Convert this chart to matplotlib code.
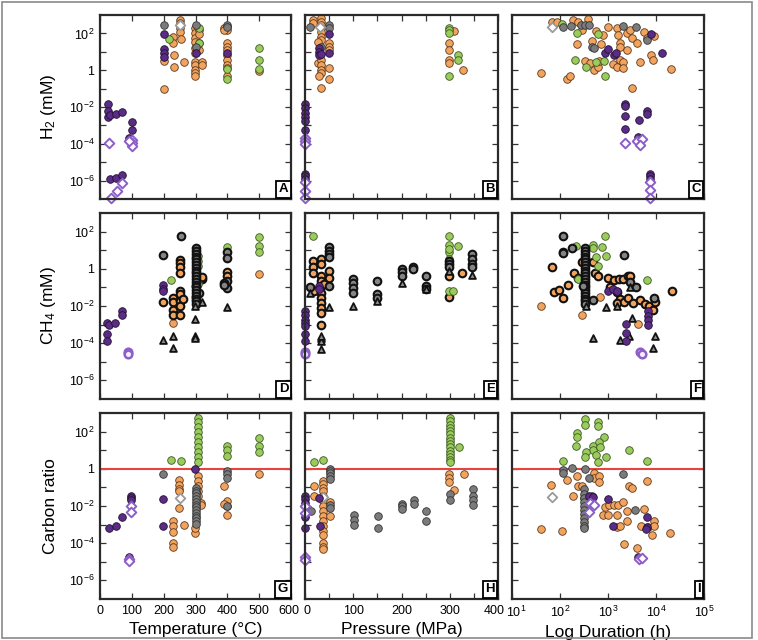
import matplotlib
matplotlib.use("Agg")
import matplotlib.pyplot as plt
import matplotlib.transforms as mtransforms
from matplotlib.patches import Rectangle

plt.rcParams['font.family'] = ['Liberation Sans', 'DejaVu Sans']
plt.rcParams['mathtext.default'] = 'regular'

# ---------------- DATA (x, log10 y) ----------------
# Panel A: Temperature (C) vs log10 H2 (mM)
A_orange = [(200,-1.0),(200,0.52),(228,1.82),(228,1.46),(231,0.83),(231,0.16),(252,2.72),(252,2.54),(252,2.27),(252,2.09),(254,1.68),(264,0.47),
            (299,2.27),(299,2.0),(299,1.73),(299,1.55),(299,1.19),(299,0.92),(299,0.47),(299,0.29),(299,0.02),(299,-0.16),(299,-0.34),
            (310,2.18),(310,1.96),(310,1.46),(310,1.1),(320,0.47),(320,0.29),
            (399,2.36),(399,2.18),(399,1.46),(399,1.28),(399,1.1),(399,0.83),(399,0.56),(399,0.29),(399,0.1),(399,-0.3),(388,2.27),(388,2.18),(500,-0.05)]
A_green = [(218,1.68),(310,2.27),(310,1.46),(399,-0.47),(399,0.05),(500,1.19),(500,0.56),(500,0.05)]
A_gray = [(200,2.43),(300,2.43),(300,1.28),(400,2.43),(400,2.34)]
A_white = [(252,2.43)]
A_purple = [(25,-1.84),(25,-2.2),(25,-2.54),(31,-2.41),(50,-2.38),(70,-2.27),(100,-2.79),(100,-3.26),(92,-3.68),
            (31,-5.91),(50,-5.84),(70,-5.69),(200,1.95),(200,1.14),(200,0.92),(200,0.74),(300,0.92),(400,0.92)]
A_pdiam = [(27,-3.96),(100,-3.77),(100,-3.95),(100,-4.1),(92,-3.86),(34,-6.95),(52,-6.58),(70,-6.14)]

# Panel B: Pressure (MPa) vs log10 H2
B_orange = [(17,2.72),(17,2.54),(34,2.81),(34,2.63),(34,2.45),(34,2.27),(34,2.09),(34,1.82),(34,1.64),(27,1.55),
            (50,1.46),(50,1.28),(50,1.1),(27,0.38),(34,0.56),(34,0.29),(34,0.02),(34,-0.16),(29,-0.29),(50,0.14),(50,-0.47),(34,-0.97),
            (299,1.46),(299,1.1),(299,0.56),(299,0.38),(308,2.14),(328,0.02)]
B_green = [(299,2.32),(299,2.18),(299,2.0),(317,0.83),(317,0.56),(299,-0.31)]
B_gray = [(10,2.36),(50,2.45),(50,2.32),(34,1.28)]
B_white = [(32,2.36)]
B_purple = [(50,1.96),(50,0.92),(29,1.19),(29,1.0),(29,0.83),(34,0.9),
            (0,-1.84),(0,-2.05),(0,-2.32),(0,-2.54),(0,-2.77),(0,-3.23),(0,-5.62),(0,-5.75),(0,-5.93)]
B_pdiam = [(0,-3.68),(0,-3.86),(0,-4.0),(0,-6.1),(0,-6.56),(0,-6.95)]

# Panel C: log10 Duration (h) vs log10 H2
C_orange = [(1.83,2.63),(1.93,2.63),(2.28,2.72),(2.38,2.63),(2.58,2.77),(2.45,2.18),(2.75,2.14),(2.9,1.91),(3.0,2.36),(3.18,2.27),
            (3.21,1.91),(3.39,2.0),(3.46,2.18),(3.49,1.73),(3.61,1.46),(3.74,2.09),(3.81,1.73),(3.96,1.86),(2.36,1.41),(2.66,1.59),
            (2.85,1.41),(3.24,1.46),(3.24,1.28),(3.40,1.1),(2.52,0.52),(2.63,0.38),(2.71,0.02),(2.8,0.16),(2.82,0.52),(3.11,0.34),
            (3.18,0.16),(3.25,0.56),(3.32,0.47),(3.32,0.11),(3.67,0.47),(3.89,0.83),(3.94,0.56),(4.31,0.05),(1.6,-0.16),(2.14,-0.47),
            (2.21,-0.31),(3.5,-0.97)]
C_green = [(2.36,2.0),(2.8,1.96),(2.31,0.56),(2.54,0.16),(2.75,0.43),(2.92,0.5),(2.94,-0.31),(2.04,2.5)]
C_gray = [(2.06,2.36),(2.22,2.41),(2.44,2.45),(2.52,2.45),(2.61,2.45),(3.32,2.41),(3.58,2.36),(2.66,1.28),(3.81,1.64),(2.7,1.2)]
C_white = [(1.83,2.36)]
C_purple = [(2.94,0.92),(2.99,1.14),(3.13,0.83),(3.17,0.92),(3.89,1.96),(4.12,0.96),(3.36,-1.82),(3.36,-1.96),(3.36,-2.5),
            (3.65,-2.72),(3.81,-2.23),(3.81,-2.36),(3.35,-3.19),(3.63,-3.62),(3.88,-5.62),(3.88,-5.75),(3.88,-5.93)]
C_pdiam = [(3.36,-3.96),(3.6,-3.86),(3.7,-3.73),(3.67,-4.04),(3.88,-6.1),(3.88,-6.52),(3.88,-6.92)]

# Panel D: Temperature vs log10 CH4 (mM)
D_purple = [(21,-2.92),(29,-3.01),(47,-2.92),(68,-2.29),(68,-2.47),(21,-3.5),(21,-3.86),(199,-0.89),(199,-1.07),(199,-1.2)]
D_popen = [(89,-4.46),(89,-4.58)]
D_gray_b = [(199,0.73),(254,1.75),(300,1.1),(300,0.95),(300,0.8),(300,0.65),(300,0.5),(300,0.35),(300,0.2),(300,0.05),(300,-0.1),
            (300,-0.25),(300,-0.4),(300,-0.55),(300,-0.7),(300,-0.85),(300,-1.0),(300,-1.15),(300,-1.3),(300,-1.45),(300,-1.6),
            (300,-1.75),(300,-1.9),(399,0.88),(399,0.6),(399,-0.66),(388,-0.75),(399,-1.02),(390,-0.85)]
D_orange_b = [(199,-1.8),(229,-1.56),(229,-1.8),(229,-2.23),(229,-2.47),(252,0.48),(252,0.3),(252,0.07),(252,-0.2),(252,-1.2),
              (252,-1.38),(252,-1.74),(252,-2.01),(252,-2.47),(260,-1.65),(320,-0.57),(320,-0.45),(399,-0.17),(399,-0.39),
              (300,-1.5),(300,-0.9),(310,-1.3)]
D_orange = [(229,-2.92),(499,-0.26)]
D_green = [(222,-0.6),(309,0.43),(309,0.16),(309,0.7),(399,1.15),(499,1.73),(499,1.24),(499,0.91),(309,-0.8)]
D_tri = [(199,-3.82),(229,-3.6),(229,-4.24),(299,-2.68),(299,-3.6),(299,-3.73),(320,-1.8),(399,-2.05),(299,-2.01)]

# Panel E: Pressure vs log10 CH4
E_purple = [(0,-2.29),(0,-2.47),(0,-2.74),(0,-2.92),(0,-3.1),(0,-3.5),(0,-3.86),(30,-0.93),(30,-1.11)]
E_popen = [(0,-4.46),(0,-4.6)]
E_green = [(17,1.78),(299,1.75),(299,1.28),(299,0.88),(299,0.52),(317,1.24),(299,-1.2),(307,-1.2),(299,1.05)]
E_orange_b = [(17,0.43),(17,0.07),(17,-0.2),(18,-1.2),(34,0.55),(34,0.25),(34,-0.39),(34,-0.66),(34,-0.93),(34,-1.29),
              (34,-1.56),(34,-1.83),(34,-2.1),(34,-2.38),(34,-3.0),(50,-0.12),(50,-0.48),(299,-0.39),(326,-0.21),(299,-1.5),(40,-0.8)]
E_gray_b = [(50,1.15),(50,0.97),(50,0.79),(50,0.61),(50,-0.93),(10,-0.97),(100,-0.57),(100,-0.78),(100,-1.02),(100,-1.29),
            (149,-0.66),(149,-1.38),(149,-1.56),(200,-0.03),(200,-0.17),(200,-0.39),(224,0.12),(224,0.01),(250,-0.39),
            (250,-0.93),(250,-1.11),(299,0.43),(299,0.25),(299,0.07),(347,0.79),(347,0.52),(347,0.25),(347,0.07)]
E_tri = [(34,-3.73),(34,-3.86),(34,-4.33),(50,-2.07),(100,-2.01),(149,-1.74),(200,-0.78),(250,-1.11),(299,-0.12),
         (347,-0.35),(10,-1.29),(34,-3.6)]

# Panel F: log10 Duration vs log10 CH4
F_gray_b = [(2.06,1.75),(2.07,0.93),(2.07,0.85),(2.26,1.1),(2.53,1.1),(2.53,0.95),(2.53,0.8),(2.53,0.65),(2.53,0.5),(2.53,0.35),
            (2.53,0.2),(2.53,0.05),(2.53,-0.1),(2.53,-0.25),(2.53,-0.4),(2.53,-0.55),(2.53,-0.7),(2.53,-0.85),(2.53,-1.0),
            (2.53,-1.15),(2.53,-1.3),(2.53,-1.45),(2.53,-1.6),(2.53,-1.75),(2.53,-1.9),(2.69,-1.69),(3.34,0.75),(3.58,-0.97),
            (3.96,-1.56),(2.48,-0.9),(3.46,-0.7)]
F_green = [(2.33,1.24),(2.68,1.28),(2.87,1.15),(2.94,1.75),(2.76,0.64),(2.8,0.16),(2.96,0.7),(3.81,-0.6),(2.38,-0.57),(2.68,1.1)]
F_orange_b = [(1.84,0.07),(1.88,-1.25),(1.98,-1.15),(2.06,-1.56),(2.16,-0.89),(2.3,-0.2),(2.38,-0.48),(2.45,0.34),(2.69,0.34),
              (2.73,-0.2),(2.8,-0.39),(3.01,-0.48),(3.13,-0.62),(3.23,-0.57),(3.32,-0.53),(3.42,-0.39),(3.04,-0.97),(3.18,-1.25),
              (3.25,-1.62),(3.18,-1.83),(3.33,-1.8),(3.42,-1.56),(3.53,-1.83),(3.67,-1.69),(3.77,-1.87),(3.85,-1.98),(3.93,-2.2),
              (3.97,-1.8),(4.33,-1.18),(3.46,-0.4)]
F_orange = [(1.6,-1.98),(2.45,-2.47),(2.83,-1.5),(3.63,-2.97)]
F_purple = [(3.01,-1.2),(3.11,-1.07),(3.19,-1.2),(3.37,-2.95),(3.37,-3.46),(3.37,-3.86),(3.83,-2.29),(3.83,-2.52),(3.83,-2.74),(3.83,-3.0)]
F_popen = [(3.67,-4.46),(3.7,-4.58)]
F_tri = [(2.54,-2.01),(2.69,-3.7),(2.96,-2.05),(3.18,-2.01),(3.26,-3.82),(3.44,-3.6),(3.51,-2.65),(3.93,-4.27),(3.98,-3.59),(3.46,-1.0)]

# Panel G: Temperature vs log10 carbon ratio
G_purple = [(28,-3.19),(49,-3.1),(68,-2.59),(98,-1.44),(98,-1.56),(98,-1.69),(197,-1.6),(197,-3.06),(299,0.01),(92,-4.73)]
G_pdiam = [(98,-1.98),(98,-2.32),(92,-4.87),(92,-4.95)]
G_green = [(222,0.48),(254,0.43),(309,2.72),(309,2.51),(309,2.24),(309,1.96),(309,1.69),(309,1.42),(309,1.15),(309,0.88),
           (309,0.61),(309,0.34),(399,1.2),(399,1.02),(399,0.7),(499,1.67),(499,1.2),(499,0.88)]
G_gray = [(197,-0.3),(300,-1.02),(300,-1.17),(300,-1.32),(300,-1.47),(300,-1.62),(300,-1.77),(300,-1.92),(300,-2.07),(300,-2.22),
          (300,-2.37),(300,-2.52),(300,-2.67),(300,-2.82),(300,-2.97),(399,-0.12),(399,-0.3),(399,-0.48),(399,-2.01)]
G_white = [(250,-1.56)]
G_orange = [(229,-2.83),(229,-3.1),(229,-3.42),(229,-4.0),(229,-4.22),(249,-0.6),(249,-0.89),(249,-1.11),(249,-1.2),(249,-2.1),
            (264,-3.01),(299,-3.46),(309,-0.39),(309,-0.66),(309,-0.93),(309,-1.2),(309,-1.44),(317,-1.83),(317,-1.92),(388,-0.93),
            (399,-1.74),(399,-2.01),(399,-2.47),(388,-1.89),(499,-0.26),(299,-3.2)]

# Panel H: Pressure vs log10 carbon ratio
H_purple = [(0,-1.47),(0,-1.65),(0,-1.83),(0,-2.59),(0,-3.19),(30,-1.56),(32,-3.1)]
H_pdiam = [(0,-2.01),(0,-2.38),(0,-4.73),(0,-4.91)]
H_green = [(18,0.39),(37,0.46),(300,2.72),(300,2.55),(300,2.38),(300,2.2),(300,2.02),(300,1.85),(300,1.68),(300,1.5),(300,1.32),
           (300,1.15),(300,0.98),(300,0.8),(300,0.62),(300,0.45),(300,0.34),(319,1.15)]
H_gray = [(12,-2.29),(51,0.01),(51,-0.12),(51,-0.21),(51,-0.39),(51,-0.57),(51,-1.92),(51,-2.1),(102,-2.47),(102,-2.74),(102,-3.01),
          (151,-2.56),(151,-3.19),(200,-1.87),(200,-2.01),(200,-2.16),(225,-1.69),(225,-1.87),(250,-2.29),(250,-2.83),(300,-1.38),
          (300,-1.69),(349,-1.07),(349,-1.47),(349,-1.69),(349,-1.92)]
H_white = [(37,-1.51)]
H_orange = [(18,-0.93),(18,-1.47),(37,-0.66),(37,-0.84),(37,-1.02),(37,-1.2),(37,-1.44),(37,-1.74),(37,-2.01),(37,-2.29),(37,-2.56),
            (37,-2.83),(37,-3.1),(37,-3.37),(37,-3.55),(37,-4.0),(37,-4.18),(37,-4.33),(51,-1.8),(51,-2.52),(299,-0.3),(299,-0.48),
            (299,-0.71),(329,-0.3),(308,-1.15)]

# Panel I: log10 Duration vs log10 carbon ratio
I_green = [(2.52,2.69),(2.52,2.38),(2.8,2.51),(2.8,2.29),(2.36,1.93),(2.36,1.73),(2.92,1.69),(2.33,1.2),(2.68,1.2),(2.68,1.02),
           (2.82,1.42),(2.83,1.15),(2.54,0.88),(2.52,0.61),(2.75,0.73),(2.8,0.37),(2.95,0.64),(3.43,0.99),(2.06,0.43),(3.81,0.43)]
I_gray = [(2.06,-0.08),(2.06,-0.21),(2.24,0.03),(2.52,-0.03),(2.61,-0.48),(3.32,-0.3),(3.56,-2.23),(2.5,-1.11),(2.5,-1.33),
          (2.5,-1.55),(2.5,-1.77),(2.5,-1.99),(2.5,-2.21),(2.5,-2.43),(2.5,-2.65),(2.5,-2.87),(2.5,-3.09),(2.5,-3.19),(2.66,-1.47)]
I_white = [(1.84,-1.53)]
I_orange = [(1.81,-0.89),(1.6,-3.24),(2.04,-3.32),(2.14,-0.6),(2.28,-1.44),(2.36,-0.39),(2.38,-0.93),(2.45,-0.93),(2.49,-1.56),
            (2.71,-0.24),(2.71,-0.48),(2.81,-0.39),(2.81,-0.71),(2.89,-2.47),(2.99,-2.47),(2.94,-2.07),(3.03,-1.92),(3.13,-1.92),
            (3.2,-1.92),(3.32,-1.8),(3.19,-2.47),(3.18,-3.14),(3.25,-3.1),(3.4,-2.29),(3.4,-2.83),(3.44,-0.93),(3.49,-1.02),
            (3.81,-0.66),(3.74,-2.16),(3.68,-3.06),(3.84,-3.14),(3.91,-3.55),(3.96,-2.83),(3.96,-3.1),(4.29,-3.46),(3.33,-4.04),(3.61,-4.27)]
I_purple = [(2.99,-1.62),(2.61,-1.44),(2.68,-1.51),(3.1,-3.1),(3.81,-2.61),(3.81,-3.14),(3.8,-3.24),(3.63,-4.73)]
I_pdiam = [(2.63,-1.83),(2.71,-1.92),(2.6,-2.34),(3.65,-4.87),(3.7,-4.82)]

y_labels = ['H$_2$ (mM)', 'CH$_4$ (mM)', 'Carbon ratio']
x_labels = ['Temperature (°C)', 'Pressure (MPa)', 'Log Duration (h)']
panel_letters = ['A', 'B', 'C', 'D', 'E', 'F', 'G', 'H', 'I']
y_tick_pos = [-6, -5, -4, -3, -2, -1, 0, 1, 2]
y_tick_labels = ['$10^{-6}$', '', '$10^{-4}$', '', '$10^{-2}$', '', '1', '', '$10^{2}$']
dur_ticks = [1, 2, 3, 4, 5]
dur_tick_labels = ['$10^{1}$', '$10^{2}$', '$10^{3}$', '$10^{4}$', '$10^{5}$']

# ---------------- STYLES ----------------
PUR = '#5b2c85'
STY = {
    'orange':   dict(marker='o', s=30, facecolor='#f2a35e', edgecolor='#5a3a1e', linewidths=0.6),
    'orange_b': dict(marker='o', s=30, facecolor='#f2a35e', edgecolor='#111111', linewidths=1.5),
    'green':    dict(marker='o', s=30, facecolor='#9acb5c', edgecolor='#3d5a22', linewidths=0.6),
    'gray':     dict(marker='o', s=30, facecolor='#7b7b7b', edgecolor='#333333', linewidths=0.6),
    'gray_b':   dict(marker='o', s=30, facecolor='#858585', edgecolor='#111111', linewidths=1.5),
    'tri':      dict(marker='^', s=24, facecolor='#8a8a8a', edgecolor='#111111', linewidths=1.3),
    'white':    dict(marker='D', s=24, facecolor='white', edgecolor='#9a9a9a', linewidths=1.3),
    'purple':   dict(marker='o', s=30, facecolor=PUR, edgecolor='#221033', linewidths=0.6),
    'pdiam':    dict(marker='D', s=24, facecolor='white', edgecolor='#8c5fc8', linewidths=1.4),
    'popen':    dict(marker='o', s=30, facecolor='#f3ecfb', edgecolor='#8c5fc8', linewidths=1.8),
}
ORDER = ['orange', 'orange_b', 'green', 'gray', 'gray_b', 'tri', 'white', 'purple', 'popen', 'pdiam']

panels = [
    {'orange': A_orange, 'green': A_green, 'gray': A_gray, 'white': A_white, 'purple': A_purple, 'pdiam': A_pdiam},
    {'orange': B_orange, 'green': B_green, 'gray': B_gray, 'white': B_white, 'purple': B_purple, 'pdiam': B_pdiam},
    {'orange': C_orange, 'green': C_green, 'gray': C_gray, 'white': C_white, 'purple': C_purple, 'pdiam': C_pdiam},
    {'orange': D_orange, 'orange_b': D_orange_b, 'green': D_green, 'gray_b': D_gray_b, 'tri': D_tri, 'purple': D_purple, 'popen': D_popen},
    {'orange_b': E_orange_b, 'green': E_green, 'gray_b': E_gray_b, 'tri': E_tri, 'purple': E_purple, 'popen': E_popen},
    {'orange': F_orange, 'orange_b': F_orange_b, 'green': F_green, 'gray_b': F_gray_b, 'tri': F_tri, 'purple': F_purple, 'popen': F_popen},
    {'orange': G_orange, 'green': G_green, 'gray': G_gray, 'white': G_white, 'purple': G_purple, 'pdiam': G_pdiam},
    {'orange': H_orange, 'green': H_green, 'gray': H_gray, 'white': H_white, 'purple': H_purple, 'pdiam': H_pdiam},
    {'orange': I_orange, 'green': I_green, 'gray': I_gray, 'white': I_white, 'purple': I_purple, 'pdiam': I_pdiam},
]

W, H = 758, 640
fig = plt.figure(figsize=(W / 100, H / 100), dpi=100)
fig.patches.append(Rectangle((2 / W, 2 / H), 750 / W, 636 / H, transform=fig.transFigure,
                             fill=False, edgecolor='#8a8a8a', linewidth=1.2))

col_left = [100, 305, 512]
col_w = [191, 193, 192]
row_top = [15, 213, 413]
row_bot = [199, 399, 599]

def nudge(label, dx_px):
    off = mtransforms.ScaledTranslation(dx_px / 100, 0, fig.dpi_scale_trans)
    label.set_transform(label.get_transform() + off)

for r in range(3):
    for c in range(3):
        k = r * 3 + c
        ax = fig.add_axes([col_left[c] / W, 1 - row_bot[r] / H, col_w[c] / W, (row_bot[r] - row_top[r]) / H])
        for cat in ORDER:
            if cat in panels[k]:
                pts = panels[k][cat]
                xs = [p[0] for p in pts]
                ys = [p[1] for p in pts]
                ax.scatter(xs, ys, clip_on=False, zorder=3, **STY[cat])
        ax.set_ylim(-7, 3)
        ax.set_yticks(y_tick_pos)
        if c == 0:
            ax.set_yticklabels(y_tick_labels)
            ax.set_ylabel(y_labels[r], fontsize=12.5, labelpad=8)
        else:
            ax.set_yticklabels([])
        if c == 0:
            ax.set_xlim(0, 600)
            ax.set_xticks(range(0, 601, 100))
        elif c == 1:
            ax.set_xlim(0, 400)
            ax.set_xticks(range(0, 401, 100))
            ax.set_xticks(range(50, 400, 100), minor=True)
        else:
            ax.set_xlim(1, 5)
            ax.set_xticks(dur_ticks)
        if r == 2:
            if c == 2:
                ax.set_xticklabels(dur_tick_labels)
            ax.set_xlabel(x_labels[c], fontsize=12.5, labelpad=4)
            ax.axhline(0, color='#e8433c', linewidth=1.5, zorder=2)
        else:
            ax.set_xticklabels([])
        ax.tick_params(which='both', direction='in', top=True, right=True, length=4, width=0.9,
                       labelsize=9, color='#333333', pad=4)
        if r == 2:
            labs = ax.get_xticklabels()
            if c == 0:
                nudge(labs[-1], -2)
            elif c == 1:
                nudge(labs[0], 2)
                nudge(labs[-1], -4)
            else:
                nudge(labs[0], 4)
        for sp in ax.spines.values():
            sp.set_linewidth(1.6)
            sp.set_color('#2a2a2a')
            sp.set_zorder(4)
        ax.text(0.985, 0.02, panel_letters[k], transform=ax.transAxes, ha='right', va='bottom',
                fontsize=9.5, fontweight='bold', zorder=6,
                bbox=dict(boxstyle='square,pad=0.18', facecolor='white', edgecolor='black', linewidth=1.3))

fig.savefig('out.png', dpi=100)
